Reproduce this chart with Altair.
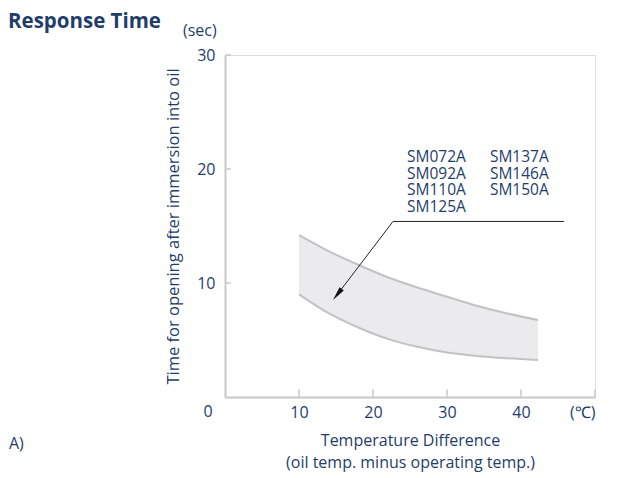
import altair as alt
import pandas as pd

# ---- data ----
band_x = [10, 14, 18, 22, 26, 30, 34, 38, 42.3]
upper = [14.2, 12.8, 11.6, 10.5, 9.6, 8.8, 8.0, 7.35, 6.75]
lower = [9.0, 7.35, 6.1, 5.1, 4.4, 3.9, 3.6, 3.4, 3.25]

x_ticks = [10, 20, 30, 40, 50]
y_ticks = [10, 20, 30]

models_left = ["SM072A", "SM092A", "SM110A", "SM125A"]
models_right = ["SM137A", "SM146A", "SM150A"]
model_top_y = 21.05
model_col_x = [24.6, 35.8]

leader_x = [45.8, 22.7, 15.18]
leader_y = [15.4, 15.4, 8.99]
arrow_x = [15.18]
arrow_y = [8.99]

NAVY = "#1f3d6b"
AXIS = "#c8c8c8"
FONT = "Open Sans"

xs = alt.Scale(domain=[0, 50], nice=False, zero=False)
ys = alt.Scale(domain=[0, 30], nice=False, zero=False)

band = pd.DataFrame({"x": band_x, "upper": upper, "lower": lower})

area = alt.Chart(band).mark_area(color="#ebebee", interpolate="monotone").encode(
    x=alt.X("x:Q", scale=xs, axis=alt.Axis(
        values=x_ticks, ticks=False, grid=False, domainColor=AXIS, domainWidth=2,
        labelColor=NAVY, labelFont=FONT, labelFontSize=16, labelPadding=7,
        labelExpr="datum.value == 50 ? '(℃)' : datum.label",
        title=["Temperature Difference", "(oil temp. minus operating temp.)"],
        titleFont=FONT, titleFontSize=16, titleFontWeight="normal", titleColor=NAVY,
        titleLineHeight=22, titlePadding=12)),
    y=alt.Y("upper:Q", scale=ys, axis=alt.Axis(
        values=y_ticks, ticks=False, grid=False, domainColor=AXIS, domainWidth=2,
        labelColor=NAVY, labelFont=FONT, labelFontSize=16, labelPadding=10,
        title="Time for opening after immersion into oil",
        titleFont=FONT, titleFontSize=16.5, titleFontWeight="normal", titleColor=NAVY,
        titlePadding=15)),
    y2="lower:Q",
)

up_line = alt.Chart(band).mark_line(color="#c2c2c4", strokeWidth=2, interpolate="monotone").encode(
    x=alt.X("x:Q", scale=xs), y=alt.Y("upper:Q", scale=ys))
low_line = alt.Chart(band).mark_line(color="#c2c2c4", strokeWidth=2, interpolate="monotone").encode(
    x=alt.X("x:Q", scale=xs), y=alt.Y("lower:Q", scale=ys))

xt = pd.DataFrame({"x": x_ticks, "y0": [0] * len(x_ticks), "y1": [0.65] * len(x_ticks)})
x_tick_rules = alt.Chart(xt).mark_rule(color=AXIS, strokeWidth=1.5).encode(
    x=alt.X("x:Q", scale=xs), y=alt.Y("y0:Q", scale=ys), y2="y1:Q")
yt = pd.DataFrame({"y": y_ticks, "x0": [0] * len(y_ticks), "x1": [0.8] * len(y_ticks)})
y_tick_rules = alt.Chart(yt).mark_rule(color=AXIS, strokeWidth=1.5).encode(
    y=alt.Y("y:Q", scale=ys), x=alt.X("x0:Q", scale=xs), x2="x1:Q")

lead = pd.DataFrame({"x": leader_x, "y": leader_y, "o": list(range(len(leader_x)))})
leader = alt.Chart(lead).mark_line(color="#222222", strokeWidth=1).encode(
    x=alt.X("x:Q", scale=xs), y=alt.Y("y:Q", scale=ys), order="o:Q")

arrow = alt.Chart(pd.DataFrame({"x": arrow_x, "y": arrow_y})).mark_point(
    shape="M0,-1L0.38,1L-0.38,1Z", filled=True, color="#111111", size=200,
    angle=218, opacity=1).encode(x=alt.X("x:Q", scale=xs), y=alt.Y("y:Q", scale=ys))

models_df = pd.DataFrame({
    "x": model_col_x,
    "y": [model_top_y, model_top_y],
    "t": [models_left, models_right],
})
models = alt.Chart(models_df).mark_text(
    align="left", baseline="middle", font=FONT, fontSize=15.5, lineHeight=16.7,
    color=NAVY).encode(
    x=alt.X("x:Q", scale=xs), y=alt.Y("y:Q", scale=ys), text="t")

extra = pd.DataFrame({"x": [-2.3, -3.4], "y": [-1.3, 32.1], "t": ["0", "(sec)"]})
extra_text = alt.Chart(extra).mark_text(
    align="center", baseline="middle", font=FONT, fontSize=16, color=NAVY).encode(
    x=alt.X("x:Q", scale=xs), y=alt.Y("y:Q", scale=ys), text="t:N")

title = alt.Chart(pd.DataFrame({"t": ["Response Time"]})).mark_text(
    align="left", baseline="middle", font=FONT, fontSize=20.5, fontWeight="bold", color=NAVY).encode(
    x=alt.value(-217), y=alt.value(-33), text="t:N")

frag = alt.Chart(pd.DataFrame({"t": ["A)"]})).mark_text(
    align="left", baseline="middle", font=FONT, fontSize=16, color=NAVY).encode(
    x=alt.value(-216), y=alt.value(389), text="t:N")

chart = alt.layer(
    area, up_line, low_line, x_tick_rules, y_tick_rules, leader, arrow,
    models, extra_text, title, frag
).properties(
    width=370, height=342,
    autosize=alt.AutoSizeParams(type="none"),
    padding={"left": 217, "top": 47, "right": 21, "bottom": 80},
).configure_view(stroke=None).configure(background="white")

chart.save("out.html", embed_options={"renderer": "svg", "actions": False})
